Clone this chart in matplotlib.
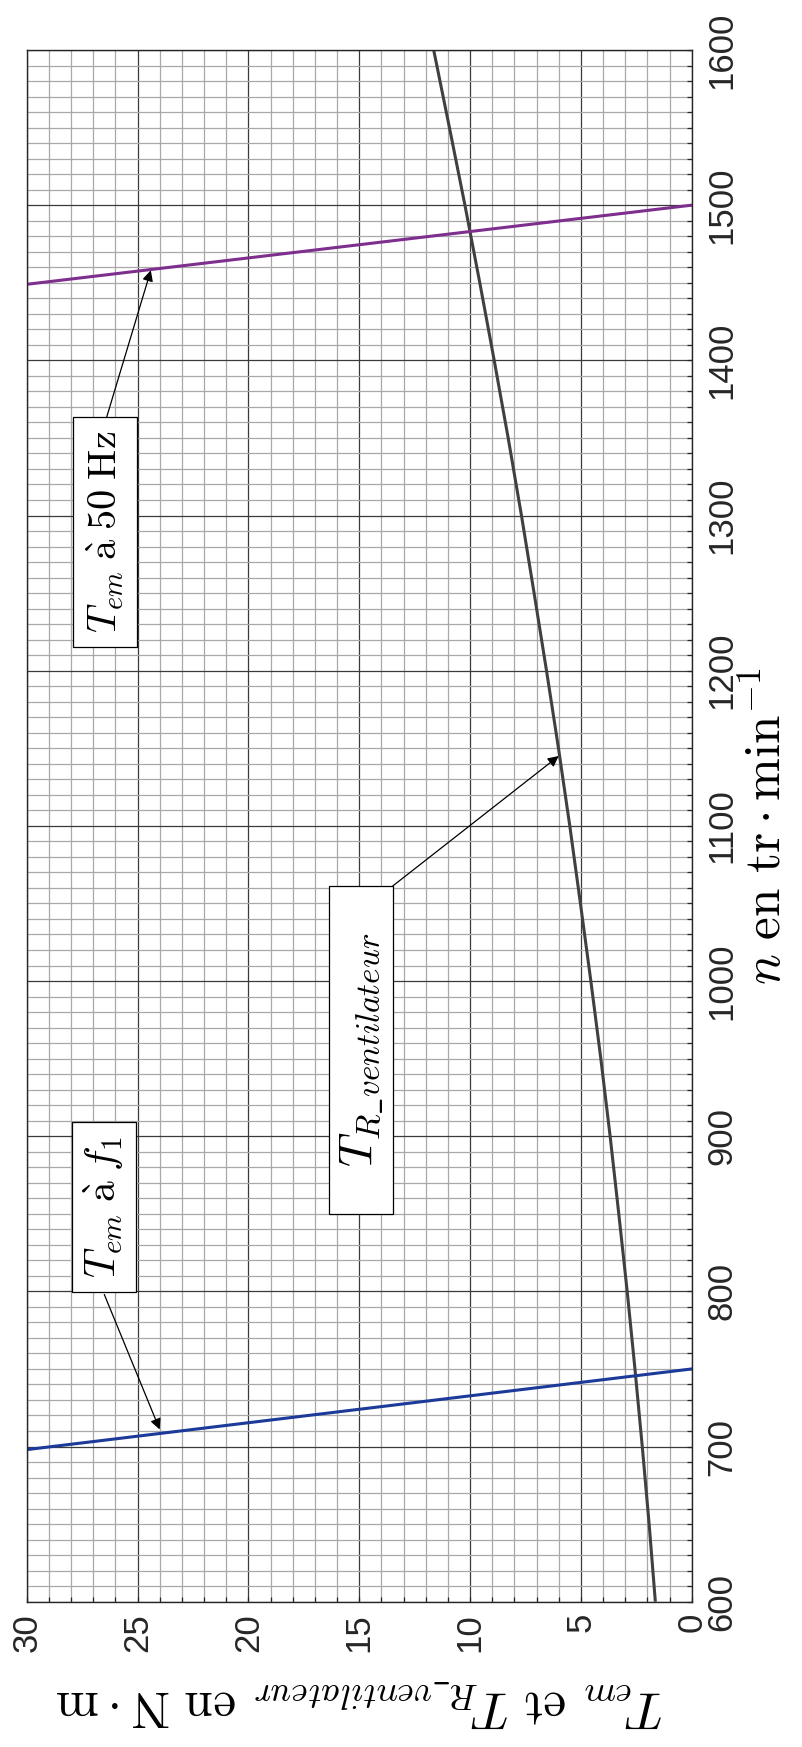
import matplotlib
matplotlib.use("Agg")
import matplotlib.pyplot as plt
from matplotlib.ticker import MultipleLocator
from matplotlib.patches import Rectangle

plt.rcParams['mathtext.fontset'] = 'cm'

# ---- data ----
n_fan = [600, 650, 700, 750, 800, 850, 900, 950, 1000, 1050, 1100,
         1150, 1200, 1250, 1300, 1350, 1400, 1450, 1500, 1550, 1600]
T_fan = [1.64, 1.92, 2.23, 2.56, 2.91, 3.29, 3.68, 4.10, 4.55, 5.02, 5.50,
         6.01, 6.55, 7.11, 7.68, 8.28, 8.91, 9.56, 10.23, 10.93, 11.64]
T_f1 = [30, 0]
n_f1 = [698, 750]
T_50 = [30, 0]
n_50 = [1449, 1500]

n_ticks = [600, 700, 800, 900, 1000, 1100, 1200, 1300, 1400, 1500, 1600]
T_ticks = [0, 5, 10, 15, 20, 25, 30]

lab_50 = r'$T_{em}\;\mathrm{\grave{a}}\;\mathrm{50\;Hz}$'
lab_f1 = r'$T_{em}\;\mathrm{\grave{a}}\;f_1$'
lab_fan = r'$T_{R\_ventilateur}$'
xlab = r'$T_{em}\ \mathrm{et}\ T_{R\_ventilateur}\ \mathrm{en\ N\cdot m}$'
ylab = r'$n\ \mathrm{en\ tr}\cdot\mathrm{min}^{-1}$'

W, H = 803, 1747
fig = plt.figure(figsize=(W / 100, H / 100), dpi=100)
ax = fig.add_axes([26.7 / W, (H - 1601.7) / H, 665 / W, 1551.7 / H])

ax.set_xlim(30, 0)
ax.set_ylim(600, 1600)

ax.xaxis.set_major_locator(MultipleLocator(5))
ax.xaxis.set_minor_locator(MultipleLocator(1))
ax.yaxis.set_major_locator(MultipleLocator(100))
ax.yaxis.set_minor_locator(MultipleLocator(10))
ax.set_xticks(T_ticks)
ax.set_yticks(n_ticks)

ax.grid(which='minor', color='#a8a8a8', lw=0.9)
ax.grid(which='major', color='#3a3a3a', lw=0.9)
ax.set_axisbelow(True)

ax.yaxis.tick_right()
ax.yaxis.set_label_position('right')
ax.tick_params(which='both', direction='in', length=3.6, width=0.9,
               color='#262626', top=False, left=False, right=True, bottom=True)
ax.tick_params(axis='x', which='major', labelsize=25, pad=8, labelrotation=90)
ax.tick_params(axis='y', which='major', labelsize=25, pad=10, labelrotation=90)
for lab in ax.get_xticklabels() + ax.get_yticklabels():
    lab.set_fontfamily('Liberation Sans')
    lab.set_color('#262626')
for lab in ax.get_yticklabels():
    lab.set_verticalalignment('center')

for s in ax.spines.values():
    s.set_color('#262626')
    s.set_linewidth(1.0)

ax.plot(T_fan, n_fan, color='#404040', lw=2.2, solid_capstyle='butt')
ax.plot(T_f1, n_f1, color='#1c3a99', lw=2.2)
ax.plot(T_50, n_50, color='#7e2f8e', lw=2.2)

# text boxes: (text, T_low, T_high, n_low, n_high, fontsize)
boxes = [
    (lab_50, 25.02, 27.90, 1215.0, 1363.5, 29),
    (lab_f1, 25.08, 27.97, 799.8, 909.0, 30),
    (lab_fan, 13.49, 16.35, 849.8, 1061.2, 34),
]
for txt, t0, t1, n0, n1, fs in boxes:
    ax.add_patch(Rectangle((t0, n0), t1 - t0, n1 - n0, fc='white', ec='black',
                           lw=0.9, zorder=3))
    ax.text((t0 + t1) / 2, (n0 + n1) / 2, txt, rotation=90, fontsize=fs,
            ha='center', va='center', zorder=4)

ap = dict(arrowstyle='-|>', color='black', lw=0.9, mutation_scale=16,
          shrinkA=0, shrinkB=0)
ax.annotate('', xy=(24.4, 1458), xytext=(26.39, 1363.5), arrowprops=ap, zorder=5)
ax.annotate('', xy=(24.0, 711), xytext=(26.5, 798), arrowprops=ap, zorder=5)
ax.annotate('', xy=(6.0, 1145), xytext=(13.49, 1061.2), arrowprops=ap, zorder=5)

ax.set_xlabel(xlab, fontsize=37, rotation=180, labelpad=18)
ax.set_ylabel(ylab, fontsize=37, rotation=90, labelpad=2)

fig.savefig('out.png', dpi=100)
